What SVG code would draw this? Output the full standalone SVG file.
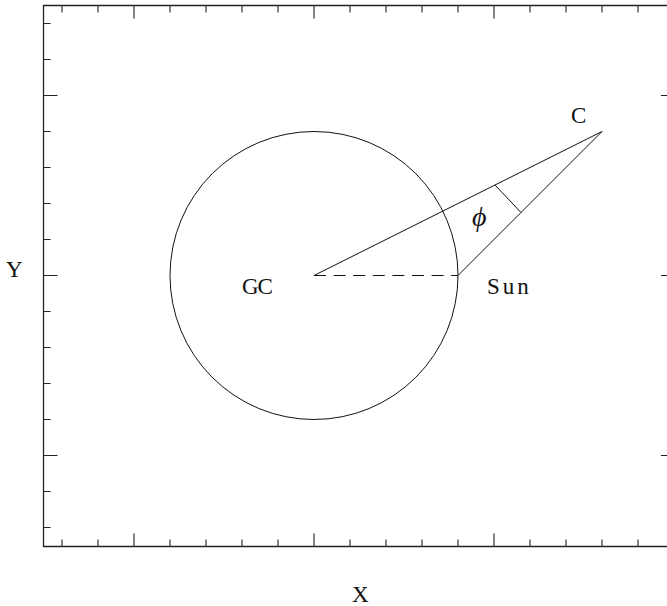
<svg xmlns="http://www.w3.org/2000/svg" width="667" height="606" viewBox="0 0 667 606">
<style>
.ln{stroke:#111;stroke-width:1;fill:none}
.fr{stroke:#222;stroke-width:1.3;fill:none}
.tk{stroke:#222;stroke-width:1.1}
.t{font-family:"Liberation Serif","DejaVu Serif",serif;font-size:23px;fill:#111}
.ph{font-family:"Liberation Serif","DejaVu Serif",serif;font-size:28px;font-style:italic;fill:#111}
</style>
<rect width="667" height="606" fill="#fff"/>
<g id="frame">
<path class="fr" d="M43.5,5.5 H674 V546.5 H43.5 Z"/>
<g class="tk">
<path d="M62,546.5v-7M98,546.5v-7M134,546.5v-13M170,546.5v-7M206,546.5v-7M242,546.5v-7M278,546.5v-7M314,546.5v-13M350,546.5v-7M386,546.5v-7M422,546.5v-7M458,546.5v-7M494,546.5v-13M530,546.5v-7M566,546.5v-7M602,546.5v-7M638,546.5v-7"/>
<path d="M62,5.5v7M98,5.5v7M134,5.5v13M170,5.5v7M206,5.5v7M242,5.5v7M278,5.5v7M314,5.5v13M350,5.5v7M386,5.5v7M422,5.5v7M458,5.5v7M494,5.5v13M530,5.5v7M566,5.5v7M602,5.5v7M638,5.5v7"/>
<path d="M43.5,23.5h7M43.5,59.5h7M43.5,95.5h14M43.5,131.5h7M43.5,167.5h7M43.5,203.5h7M43.5,239.5h7M43.5,275.5h14M43.5,311.5h7M43.5,347.5h7M43.5,383.5h7M43.5,419.5h7M43.5,455.5h14M43.5,491.5h7M43.5,527.5h7"/>
<path d="M674,95.5h-13M674,275.5h-13M674,455.5h-13"/>
</g>
</g>
<g id="galaxy">
<circle class="ln" cx="314" cy="275.5" r="144"/>
</g>
<g id="connectors">
<path class="ln" d="M314,275.5 L602,131.5 L458,275.5"/>
<path class="ln" d="M314,275.5 H458" stroke-dasharray="12 7.6"/>
<path class="ln" d="M495,185 L521,212.5"/>
</g>
<g id="label-GC"><text class="t" x="242" y="294" letter-spacing="-1">GC</text></g>
<g id="label-Sun"><text class="t" x="487" y="294" letter-spacing="3">Sun</text></g>
<g id="label-C"><text class="t" x="571" y="123">C</text></g>
<g id="label-phi"><text class="ph" x="472" y="226">ϕ</text></g>
<g id="axis-labels">
<text class="t" x="6" y="277">Y</text>
<text class="t" x="352" y="602">X</text>
</g>
</svg>
